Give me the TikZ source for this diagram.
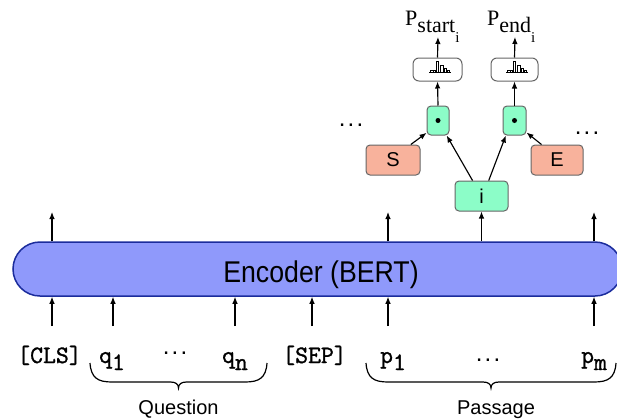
\documentclass[tikz,border=0pt]{standalone}
\usepackage{fontspec}
\usepackage{graphicx}
\newfontfamily\sansf{Liberation Sans}
\newfontfamily\seriff{Liberation Serif}
\newfontfamily\tokf{Latin Modern Mono}[FakeBold=1.2]
\usetikzlibrary{arrows.meta}
\definecolor{encfill}{HTML}{8F99FB}
\definecolor{encdraw}{HTML}{1B2C9C}
\definecolor{mint}{HTML}{8CFDC8}
\definecolor{salmon}{HTML}{F8B29C}
\definecolor{boxline}{HTML}{666666}
\tikzset{
  arr/.style={-{Latex[length=7pt,width=5.6pt]}, line width=1.15pt, black},
  encbox/.style={draw=encdraw, fill=encfill, line width=1.5pt, rounded corners=27pt, inner sep=0pt},
  mintbox/.style={draw=boxline, fill=mint, line width=1pt, rounded corners=4pt, inner sep=0pt, font=\sansf\fontsize{20}{20}\selectfont},
  salbox/.style={draw=boxline, fill=salmon, line width=1pt, rounded corners=4pt, inner sep=0pt, font=\sansf\fontsize{20}{20}\selectfont},
  histbox/.style={draw=boxline, fill=white, line width=1pt, rounded corners=6pt, inner sep=0pt, minimum height=23pt},
  tok/.style={anchor=base, inner sep=0pt, font=\tokf\fontsize{25}{25}\selectfont},
  plabel/.style={anchor=base west, inner sep=0pt, font=\seriff\fontsize{22}{22}\selectfont},
  caption/.style={anchor=base, inner sep=0pt, font=\sansf\fontsize{20}{20}\selectfont},
  dotsnode/.style={inner sep=0pt, font=\sansf\fontsize{24}{24}\selectfont},
  bracestyle/.style={line width=1.2pt, black},
  bar/.style={draw=black, fill=white, line width=0.5pt}
}
\newcommand\threedots{.\kern2.2pt.\kern2.2pt.}
\newcommand\drawbrace[3]{%
  \pgfmathsetmacro\bm{(#1+#2)/2}%
  \draw[bracestyle] (#1,#3) .. controls (#1+1,#3+15) and (#1+8,#3+19) .. (#1+22,#3+19)
    -- (\bm-8,#3+19) .. controls (\bm-3,#3+19) and (\bm,#3+21) .. (\bm,#3+25)
    .. controls (\bm,#3+21) and (\bm+3,#3+19) .. (\bm+8,#3+19)
    -- (#2-22,#3+19) .. controls (#2-8,#3+19) and (#2-1,#3+15) .. (#2,#3);}
\newcommand\histicon[1]{%
  \begin{scope}[shift={(#1)}]
    \draw[line width=0.6pt] (-8.5,3.2) -- (13.5,3.2);
    \draw[bar] (-7,3.2) rectangle (-4.6,1.2);
    \draw[bar] (-4.4,3.2) rectangle (-2,1.2);
    \draw[bar] (-1.4,3.2) rectangle (1,-7.8);
    \draw[bar] (3,3.2) rectangle (5.4,-3.8);
    \draw[bar] (6.3,3.2) rectangle (8.7,-0.8);
    \draw[bar] (9.6,3.2) rectangle (12,1.2);
  \end{scope}}
\begin{document}
\begin{tikzpicture}[x=1pt,y=-1pt]
\useasboundingbox (0,0) rectangle (617,418);
% encoder
\node[encbox, minimum width=609pt, minimum height=54pt] (enc) at (317.5,269) {};
\node[anchor=base, inner sep=0pt, font=\sansf\fontsize{30}{30}\selectfont] (enclabel) at (321,282) {\scalebox{0.89}[1]{Encoder (BERT)}};
% tokens
\node[tok] (cls) at (49.5,363) {[CLS]};
\node[tok] (q1) at (112,363) {q\raisebox{-7pt}{1}};
\node[dotsnode] (qdots) at (175,353) {\threedots};
\node[tok] (qn) at (235,363) {q\raisebox{-7pt}{n}};
\node[tok] (sep) at (314.5,363) {[SEP]};
\node[tok] (p1) at (393,363) {p\raisebox{-7pt}{1}};
\node[dotsnode] (pdots) at (488,360) {\threedots};
\node[tok] (pm) at (594,363) {p\raisebox{-7pt}{m}};
% braces
\drawbrace{90}{267}{363}
\drawbrace{366}{616}{363}
\node[caption] (question) at (178.5,414) {Question};
\node[caption] (passage) at (496,414) {Passage};
% arrows into encoder
\foreach \nm/\xx in {bcls/52, bq1/113, bqn/235, bsep/312, bp1/388, bpm/594}{
  \coordinate (\nm) at (\xx,326);
  \draw[arr] (\nm) -- (\nm |- enc.south);
}
% arrows out of encoder
\foreach \nm/\xx in {tcls/52, tp1/388, tpm/594}{
  \coordinate (\nm) at (\xx,212);
  \draw[arr] (\nm |- enc.north) -- (\nm);
}
% span-prediction head
\node[mintbox, minimum width=53pt, minimum height=30pt] (ivec) at (481.5,196) {i};
\node[salbox, minimum width=54pt, minimum height=30pt] (S) at (393,160) {S};
\node[salbox, minimum width=52pt, minimum height=30pt] (E) at (557,160) {E};
\node[mintbox, minimum width=22pt, minimum height=29pt] (dotL) at (438,120.5) {};
\node[mintbox, minimum width=23pt, minimum height=29pt] (dotR) at (514.5,120.5) {};
\fill (dotL.center) circle (2.5pt);
\fill (dotR.center) circle (2.5pt);
\node[histbox, minimum width=49pt] (histL) at (437.5,69.5) {};
\node[histbox, minimum width=47pt] (histR) at (514.5,69.5) {};
\histicon{histL.center}
\histicon{histR.center}
\draw[arr] (ivec.south |- enc.north) -- (ivec.south);
\draw[arr] (S.41) -- (dotL.227);
\draw[arr] (ivec.120) -- (dotL.-60);
\draw[arr] (ivec.65) -- (dotR.240);
\draw[arr] (E.135) -- (dotR.-45);
\draw[arr] (dotL.north) -- (histL.south);
\draw[arr] (dotR.north) -- (histR.south);
\coordinate (tipL) at (438,37);
\coordinate (tipR) at (515,37);
\draw[arr] (histL.north) -- (tipL);
\draw[arr] (histR.north) -- (tipR);
\node[plabel] (pstart) at (405,25) {P\raisebox{-7pt}{start\raisebox{-10pt}{\fontsize{15}{15}\selectfont i}}};
\node[plabel] (pend) at (487,25) {P\raisebox{-7pt}{end\raisebox{-10pt}{\fontsize{15}{15}\selectfont i}}};
\node[dotsnode] (ldots) at (351,125) {\threedots};
\node[dotsnode] (rdots) at (587,133) {\threedots};
\end{tikzpicture}
\end{document}
